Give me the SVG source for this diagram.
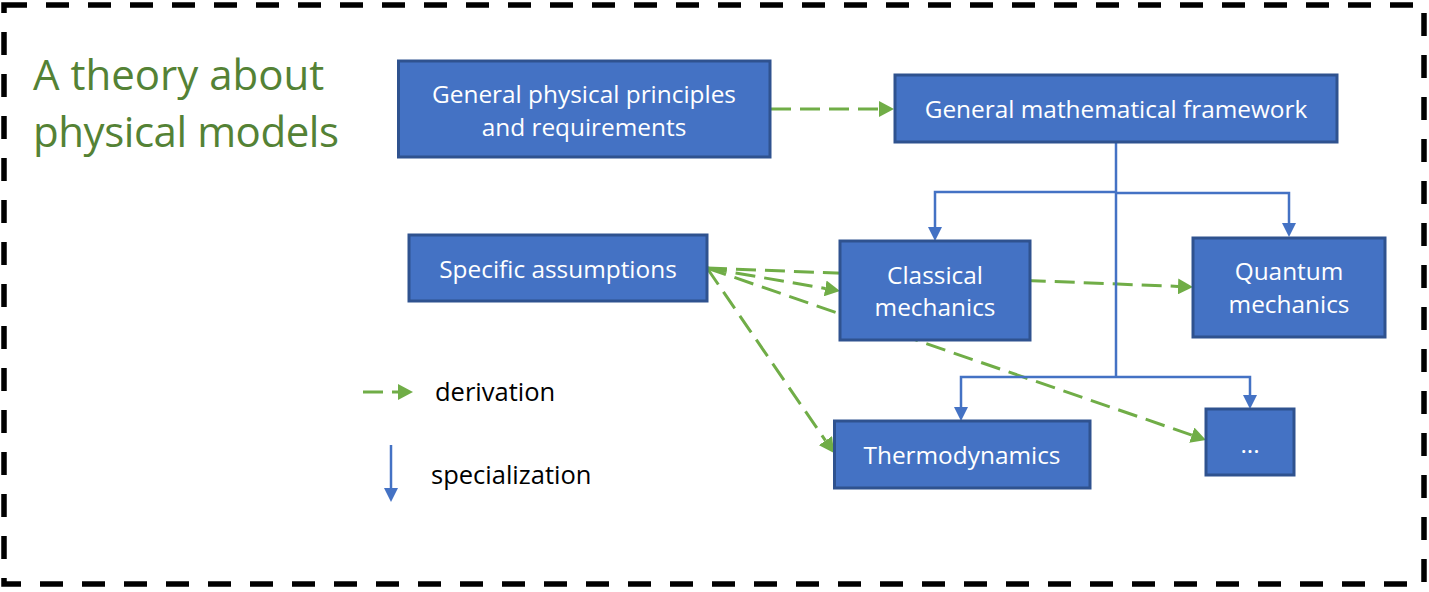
<svg xmlns="http://www.w3.org/2000/svg" width="1429" height="592" viewBox="0 0 1429 592">
  <style>
    .box { fill: #4472C4; stroke: #2F528F; stroke-width: 3; }
    .lbl { font-family: "Open Sans", "Liberation Sans", sans-serif; font-size: 24.4px; fill: #FFFFFF; text-anchor: middle; }
    .deriv { fill: none; stroke: #70AD47; stroke-width: 3; stroke-dasharray: 20 9; }
    .spec { fill: none; stroke: #4472C4; stroke-width: 2.5; }
    .legend { font-family: "Open Sans", "Liberation Sans", sans-serif; font-size: 25.5px; fill: #000000; }
    .title { font-family: "Open Sans", "Liberation Sans", sans-serif; font-size: 42px; fill: #548235; }
  </style>
  <defs>
    <marker id="gHead" markerUnits="userSpaceOnUse" markerWidth="16" markerHeight="16" refX="0" refY="8" orient="auto">
      <path d="M0,0 L15,8 L0,16 z" fill="#70AD47"/>
    </marker>
    <marker id="bHead" markerUnits="userSpaceOnUse" markerWidth="14" markerHeight="14" refX="0" refY="7" orient="auto">
      <path d="M0,0 L14,7 L0,14 z" fill="#4472C4"/>
    </marker>
  </defs>

  <rect x="4" y="5" width="1420" height="579" fill="none" stroke="#000000" stroke-width="5.5" stroke-dasharray="23 19"/>

  <g id="title">
    <text class="title" x="33" y="90">A theory about</text>
    <text class="title" x="33" y="147" textLength="306">physical models</text>
  </g>

  <g id="connectors">
    <path class="deriv" d="M771,109 L879,109" marker-end="url(#gHead)"/>
    <path class="deriv" d="M707,268 L1178,286.4" marker-end="url(#gHead)"/>
    <path class="deriv" d="M707,268 L1191.8,435.1" marker-end="url(#gHead)"/>
    <path class="deriv" d="M707,268 L825.2,288.4" marker-end="url(#gHead)"/>
    <path class="deriv" d="M707,268 L825.5,440.6" marker-end="url(#gHead)"/>
    <path class="spec" d="M1116,142 L1116,377"/>
    <path class="spec" d="M1116,192 L935,192 L935,227" marker-end="url(#bHead)"/>
    <path class="spec" d="M1116,193 L1289,193 L1289,223" marker-end="url(#bHead)"/>
    <path class="spec" d="M1116,377 L961,377 L961,407" marker-end="url(#bHead)"/>
    <path class="spec" d="M1116,377 L1250,377 L1250,395" marker-end="url(#bHead)"/>
  </g>

  <g id="node-principles">
    <rect class="box" x="398.5" y="61" width="371.5" height="96"/>
    <text class="lbl" x="584" y="103">General physical principles</text>
    <text class="lbl" x="584" y="136">and requirements</text>
  </g>
  <g id="node-framework">
    <rect class="box" x="895" y="75" width="442" height="67"/>
    <text class="lbl" x="1116" y="118">General mathematical framework</text>
  </g>
  <g id="node-assumptions">
    <rect class="box" x="409" y="235" width="298" height="66"/>
    <text class="lbl" x="558" y="278">Specific assumptions</text>
  </g>
  <g id="node-classical">
    <rect class="box" x="840" y="241" width="190" height="99"/>
    <text class="lbl" x="935" y="284">Classical</text>
    <text class="lbl" x="935" y="316">mechanics</text>
  </g>
  <g id="node-quantum">
    <rect class="box" x="1193" y="238" width="192" height="99"/>
    <text class="lbl" x="1289" y="280">Quantum</text>
    <text class="lbl" x="1289" y="313">mechanics</text>
  </g>
  <g id="node-thermo">
    <rect class="box" x="834.5" y="421" width="255.5" height="67"/>
    <text class="lbl" x="962" y="464">Thermodynamics</text>
  </g>
  <g id="node-more">
    <rect class="box" x="1206" y="409" width="88" height="66"/>
    <text class="lbl" x="1250" y="453">...</text>
  </g>

  <g id="legend">
    <path class="deriv" d="M363,392 L398,392" marker-end="url(#gHead)"/>
    <text class="legend" x="435" y="401">derivation</text>
    <path class="spec" d="M391,445 L391,488" marker-end="url(#bHead)"/>
    <text class="legend" x="431" y="484">specialization</text>
  </g>
</svg>
